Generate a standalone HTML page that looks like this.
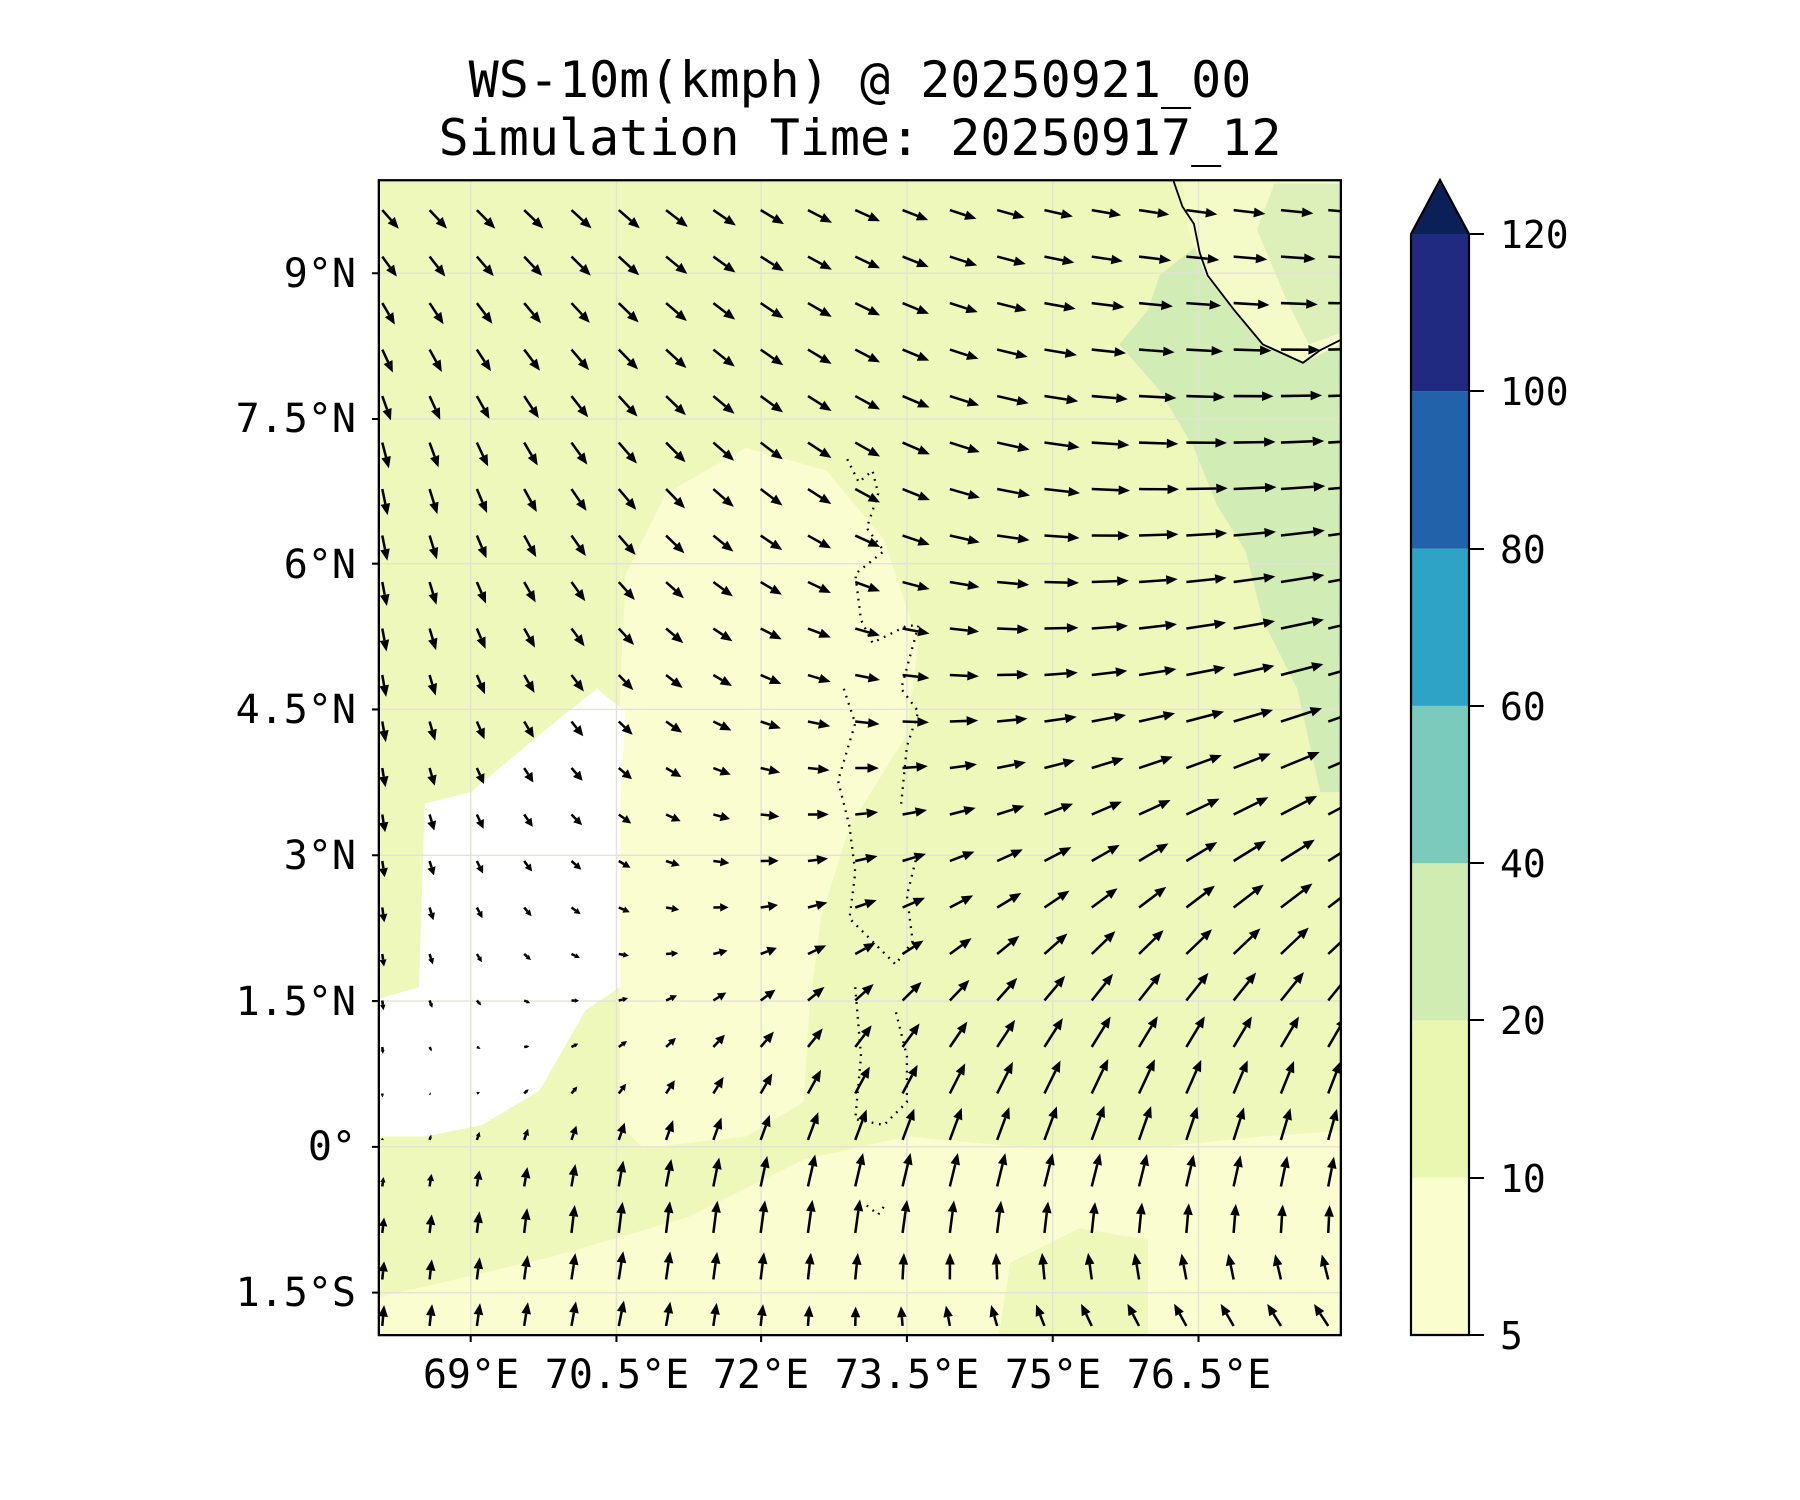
<!DOCTYPE html>
<html><head><meta charset="utf-8"><style>
html,body{margin:0;padding:0;background:#fff;}
svg{display:block;}
text{font-family:"DejaVu Sans Mono","Liberation Mono",monospace;fill:#000;}
</style></head><body>
<svg id="s" width="1800" height="1500" viewBox="0 0 1800 1500" xmlns="http://www.w3.org/2000/svg">
<defs><clipPath id="cp"><rect x="330" y="157" width="838" height="1006"/></clipPath></defs>
<text x="860" y="97" font-size="50" text-anchor="middle">WS-10m(kmph) @ 20250921_00</text>
<text x="860" y="155" font-size="50" text-anchor="middle">Simulation Time: 20250917_12</text>
<g transform="scale(1.148)">
<g clip-path="url(#cp)">
<rect x="330" y="157" width="838" height="1006" fill="#eff8bb"/>
<path d="M540,610 L545,500 L580,430 L650,390 L720,410 L770,470 L800,560 L790,640 L740,720 L715,800 L705,880 L700,960 L650,990 L560,1000 L540,980 Z" fill="#f9fdcf"/>
<path d="M330,1130 L480,1095 L600,1060 L700,1010 L790,990 L900,1000 L1000,1000 L1100,990 L1168,985 L1168,1163 L330,1163 Z" fill="#f9fdcf"/>
<path d="M870,1163 L880,1100 L940,1070 L1000,1080 L1000,1163 Z" fill="#eff8bb"/>
<path d="M370,700 L410,690 L470,640 L520,600 L545,620 L540,700 L540,860 L510,880 L470,950 L420,980 L370,990 L330,990 L330,870 L365,860 Z" fill="#ffffff"/>
<path d="M975,300 L1000,270 L1010,240 L1060,200 L1100,160 L1168,157 L1168,690 L1150,690 L1130,600 L1100,540 L1085,480 L1060,440 L1040,390 L1010,340 Z" fill="#d2ecb5"/>
<path d="M1035,200 L1050,240 L1075,270 L1100,300 L1135,316 L1168,300 L1168,157 L1030,157 Z" fill="#f5fbc8"/>
<path d="M1095,200 L1110,160 L1168,160 L1168,290 L1140,300 L1120,260 Z" fill="#d8eeb6" opacity="0.8"/>
<g stroke="#e2e2d6" stroke-width="1.2" fill="none">
<path d="M410,157V1163M537,157V1163M663,157V1163M790,157V1163M917,157V1163M1044,157V1163"/>
<path d="M330,238H1168M330,365H1168M330,491H1168M330,618H1168M330,745H1168M330,872H1168M330,999H1168M330,1126H1168"/>
</g>
<path d="M1022,157 L1030,180 L1040,195 L1045,220 L1052,240 L1075,270 L1100,300 L1135,316 L1150,305 L1168,296" fill="none" stroke="#000" stroke-width="1.6"/>
<g fill="none" stroke="#000" stroke-width="2" stroke-dasharray="1.5 5">
<path d="M738,400 L748,420 L760,410 L765,430 L755,460 L770,480 L745,500 L750,540 L760,560 L790,545 L800,545 L785,600 L800,620 L790,650 L785,700"/>
<path d="M735,600 L745,630 L730,680 L740,720 L745,760 L740,800 L760,820 L780,840 L795,820 L790,780 L800,740"/>
<path d="M745,860 L750,920 L745,975 L770,980 L790,960 L790,920 L780,880"/>
<path d="M755,1050 L765,1058 L772,1048"/>
</g>
<g id="arrows"></g>
</g>
<rect x="330" y="157" width="838" height="1006" fill="none" stroke="#000" stroke-width="2"/>
<g stroke="#000" stroke-width="1.8">
<path d="M410,1163v6M537,1163v6M663,1163v6M790,1163v6M917,1163v6M1044,1163v6"/>
<path d="M330,238h-6M330,365h-6M330,491h-6M330,618h-6M330,745h-6M330,872h-6M330,999h-6M330,1126h-6"/>
</g>
</g>
<g font-size="40">
<text x="356" y="287" text-anchor="end">9°N</text>
<text x="356" y="432" text-anchor="end">7.5°N</text>
<text x="356" y="578" text-anchor="end">6°N</text>
<text x="356" y="723" text-anchor="end">4.5°N</text>
<text x="356" y="869" text-anchor="end">3°N</text>
<text x="356" y="1015" text-anchor="end">1.5°N</text>
<text x="356" y="1160" text-anchor="end">0°</text>
<text x="356" y="1306" text-anchor="end">1.5°S</text>
<text x="471" y="1388" text-anchor="middle">69°E</text>
<text x="617" y="1388" text-anchor="middle">70.5°E</text>
<text x="761" y="1388" text-anchor="middle">72°E</text>
<text x="907" y="1388" text-anchor="middle">73.5°E</text>
<text x="1053" y="1388" text-anchor="middle">75°E</text>
<text x="1199" y="1388" text-anchor="middle">76.5°E</text>
</g>
<g>
<rect x="1411" y="1177.7" width="58" height="157.3" fill="#fafdce"/>
<rect x="1411" y="1020.4" width="58" height="157.3" fill="#eaf7b1"/>
<rect x="1411" y="863.1" width="58" height="157.3" fill="#d0ecb3"/>
<rect x="1411" y="705.9" width="58" height="157.3" fill="#7acbbc"/>
<rect x="1411" y="548.6" width="58" height="157.3" fill="#2ea3c5"/>
<rect x="1411" y="391.3" width="58" height="157.3" fill="#2162ab"/>
<rect x="1411" y="234" width="58" height="157.3" fill="#1f2a80"/>
<path d="M1411,234 L1440,180 L1469,234 Z" fill="#0b1f59"/>
<path d="M1411,234 L1440,180 L1469,234 L1469,1335 L1411,1335 Z" fill="none" stroke="#000" stroke-width="2.2"/>
<g stroke="#000" stroke-width="2"><path d="M1469,234h15M1469,391h15M1469,549h15M1469,706h15M1469,863h15M1469,1020h15M1469,1178h15M1469,1335h15"/></g>
<g font-size="38">
<text x="1500" y="248">120</text><text x="1500" y="405">100</text><text x="1500" y="563">80</text>
<text x="1500" y="720">60</text><text x="1500" y="877">40</text><text x="1500" y="1034">20</text>
<text x="1500" y="1192">10</text><text x="1500" y="1349">5</text>
</g>
</g>
</svg>
<script>
(function(){
var fyk=[0,0.25,0.45,0.65,0.8,0.9,1], fxk=[0,0.25,0.5,0.75,1];
var V=[
[[10,10],[12,10],[14,6],[16,3],[18,2]],
[[3,15],[10,12],[14,8],[22,1],[26,-2]],
[[2,12],[8,8],[14,2],[20,-3],[25,-8]],
[[1,8],[6,2],[12,-5],[14,-12],[18,-15]],
[[0,2],[4,-6],[8,-16],[9,-20],[6,-18]],
[[1,-8],[2,-18],[3,-20],[3,-18],[2,-16]],
[[1,-12],[3,-14],[0,-10],[-7,-12],[-9,-12]]];
function idx(k,t){for(var i=0;i<k.length-2;i++){if(t<k[i+1])break;}return [i,(t-k[i])/(k[i+1]-k[i])];}
function f(fx,fy){var a=idx(fyk,fy),b=idx(fxk,fx);var i=a[0],s=Math.max(0,Math.min(1,a[1])),j=b[0],t=Math.max(0,Math.min(1,b[1]));
var r=[0,0];for(var c=0;c<2;c++){r[c]=(1-s)*((1-t)*V[i][j][c]+t*V[i][j+1][c])+s*((1-t)*V[i+1][j][c]+t*V[i+1][j+1][c]);}return r;}
var out='';
for(var r=0;r<25;r++){var y=183+r*40.5;
for(var c=0;c<21;c++){var x=333+c*41.2;
var v=f((x-330)/838,(y-157)/1006);var dx=v[0]*1.55,dy=v[1]*1.55;
var L=Math.sqrt(dx*dx+dy*dy);if(L<1)continue;
var ux=dx/L,uy=dy/L,hl=Math.min(10,L*0.55),hw=Math.min(4.2,L*0.28);
var x2=x+dx,y2=y+dy,bx=x2-ux*hl,by=y2-uy*hl;
out+='<line x1="'+x.toFixed(1)+'" y1="'+y.toFixed(1)+'" x2="'+bx.toFixed(1)+'" y2="'+by.toFixed(1)+'" stroke="#000" stroke-width="2.2"/>';
out+='<polygon points="'+x2.toFixed(1)+','+y2.toFixed(1)+' '+(bx-uy*hw).toFixed(1)+','+(by+ux*hw).toFixed(1)+' '+(bx+uy*hw).toFixed(1)+','+(by-ux*hw).toFixed(1)+'" fill="#000"/>';
}}
document.getElementById('arrows').innerHTML=out;
})();
</script>
</body></html>
